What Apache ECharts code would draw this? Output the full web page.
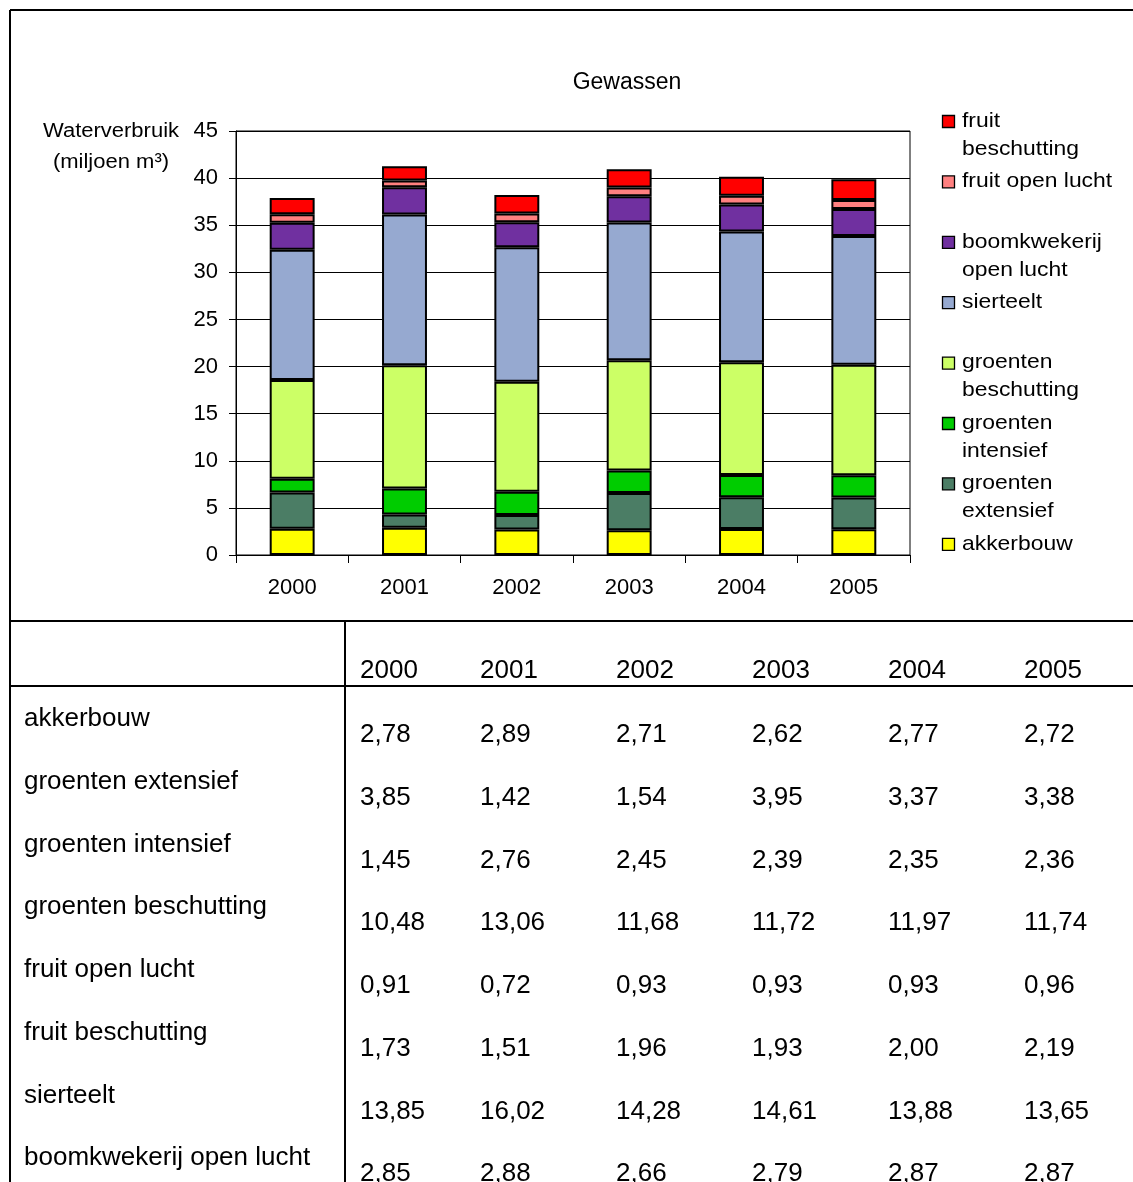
<!DOCTYPE html>
<html>
<head>
<meta charset="utf-8">
<title>Gewassen – Waterverbruik</title>
<script src="https://cdn.jsdelivr.net/npm/echarts@6/dist/echarts.min.js"></script>
<style>
  html, body { margin: 0; padding: 0; background: #fff; }
  #chart { width: 1133px; height: 1182px; }
</style>
</head>
<body>
<div id="chart"></div>
<script>
// Categories and y-axis ticks
const years = ['2000', '2001', '2002', '2003', '2004', '2005'];
const yMin = 0, yMax = 45, yStep = 5;

// Water use per crop group (miljoen m³)
const akkerbouw           = [2.78, 2.89, 2.71, 2.62, 2.77, 2.72];
const groentenExtensief   = [3.85, 1.42, 1.54, 3.95, 3.37, 3.38];
const groentenIntensief   = [1.45, 2.76, 2.45, 2.39, 2.35, 2.36];
const groentenBeschutting = [10.48, 13.06, 11.68, 11.72, 11.97, 11.74];
const fruitOpenLucht      = [0.91, 0.72, 0.93, 0.93, 0.93, 0.96];
const fruitBeschutting    = [1.73, 1.51, 1.96, 1.93, 2.00, 2.19];
const sierteelt           = [13.85, 16.02, 14.28, 14.61, 13.88, 13.65];
const boomkwekerij        = [2.85, 2.88, 2.66, 2.79, 2.87, 2.87];

// Stack order, bottom to top
const stackSeries = [
  { name: 'akkerbouw',               legend: 'akkerbouw',                 data: akkerbouw,           color: '#FFFF00' },
  { name: 'groenten extensief',      legend: 'groenten\nextensief',       data: groentenExtensief,   color: '#4B7D65' },
  { name: 'groenten intensief',      legend: 'groenten\nintensief',       data: groentenIntensief,   color: '#00CC00' },
  { name: 'groenten beschutting',    legend: 'groenten\nbeschutting',     data: groentenBeschutting, color: '#CCFF66' },
  { name: 'sierteelt',               legend: 'sierteelt',                 data: sierteelt,           color: '#96A9D0' },
  { name: 'boomkwekerij open lucht', legend: 'boomkwekerij\nopen lucht',  data: boomkwekerij,        color: '#7030A0' },
  { name: 'fruit open lucht',        legend: 'fruit open lucht',          data: fruitOpenLucht,      color: '#FF8080' },
  { name: 'fruit beschutting',       legend: 'fruit\nbeschutting',        data: fruitBeschutting,    color: '#FF0000' }
];

// Row order of the table under the chart
const tableRows = [
  ['akkerbouw', akkerbouw],
  ['groenten extensief', groentenExtensief],
  ['groenten intensief', groentenIntensief],
  ['groenten beschutting', groentenBeschutting],
  ['fruit open lucht', fruitOpenLucht],
  ['fruit beschutting', fruitBeschutting],
  ['sierteelt', sierteelt],
  ['boomkwekerij open lucht', boomkwekerij]
];

const FONT = '"Liberation Sans", Arial, sans-serif';
const fmt = v => v.toFixed(2).replace('.', ',');

const chart = echarts.init(document.getElementById('chart'), null, { renderer: 'canvas' });

const graphics = [];

// Frame and table rules
const line = (x1, y1, x2, y2) => ({
  type: 'line', silent: true,
  shape: { x1, y1, x2, y2 },
  style: { stroke: '#000', lineWidth: 2 }
});
graphics.push(line(10, 10, 1140, 10));
graphics.push(line(10, 10, 10, 1190));
graphics.push(line(10, 621, 1140, 621));
graphics.push(line(10, 686, 1140, 686));
graphics.push(line(345, 621, 345, 1190));

// Chart title
graphics.push({
  type: 'text', silent: true, x: 627, y: 83,
  style: {
    text: 'Gewassen', align: 'center', verticalAlign: 'middle',
    fontSize: 23, fontFamily: FONT, fill: '#000'
  }
});

// Y axis caption
graphics.push({
  type: 'text', silent: true, x: 111, y: 116, scaleX: 1.1,
  style: {
    text: 'Waterverbruik\n(miljoen m³)', align: 'center', verticalAlign: 'top',
    lineHeight: 31, fontSize: 20, fontFamily: FONT, fill: '#000'
  }
});

// Legend (top to bottom: reverse stack order)
stackSeries.slice().reverse().forEach((s, i) => {
  const cy = 121 + i * 60.4;
  graphics.push({
    type: 'rect', silent: true,
    shape: { x: 942.5, y: cy - 5.5, width: 12, height: 12 },
    style: { fill: s.color, stroke: '#000', lineWidth: 1.3 }
  });
  graphics.push({
    type: 'text', silent: true, x: 962, y: cy - 14, scaleX: 1.09,
    style: {
      text: s.legend, align: 'left', verticalAlign: 'top',
      lineHeight: 28, fontSize: 21, fontFamily: FONT, fill: '#000'
    }
  });
});

// Table: header years and rows
const colX = i => (i === 0 ? 360 : 480 + (i - 1) * 136);
const TABLE_FONT = 26;
years.forEach((y, i) => {
  graphics.push({
    type: 'text', silent: true, x: colX(i), y: 671,
    style: { text: y, verticalAlign: 'middle', fontSize: TABLE_FONT, fontFamily: FONT, fill: '#000' }
  });
});
tableRows.forEach(([label, values], r) => {
  const ly = 719 + r * 62.75;
  graphics.push({
    type: 'text', silent: true, x: 24, y: ly,
    style: { text: label, verticalAlign: 'middle', fontSize: TABLE_FONT, fontFamily: FONT, fill: '#000' }
  });
  values.forEach((v, i) => {
    graphics.push({
      type: 'text', silent: true, x: colX(i), y: ly + 16,
      style: { text: fmt(v), verticalAlign: 'middle', fontSize: TABLE_FONT, fontFamily: FONT, fill: '#000' }
    });
  });
});

chart.setOption({
  animation: false,
  backgroundColor: '#fff',
  textStyle: { fontFamily: FONT },
  grid: {
    left: 236, right: 223, top: 131, bottom: 627,
    show: true, borderColor: '#000', borderWidth: 1, backgroundColor: '#fff'
  },
  xAxis: {
    type: 'category', data: years, boundaryGap: true,
    axisLine: { lineStyle: { color: '#000', width: 1 } },
    axisTick: { show: true, alignWithLabel: false, length: 8, lineStyle: { color: '#000' } },
    axisLabel: { color: '#000', fontSize: 22, margin: 22, fontFamily: FONT },
    splitLine: { show: false }
  },
  yAxis: {
    type: 'value', min: yMin, max: yMax, interval: yStep,
    axisLine: { show: true, lineStyle: { color: '#000', width: 1 } },
    axisTick: { show: true, length: 7, lineStyle: { color: '#000' } },
    axisLabel: { color: '#000', fontSize: 22, margin: 18, fontFamily: FONT },
    splitLine: { show: true, lineStyle: { color: '#000', width: 1 } }
  },
  series: stackSeries.map(s => ({
    name: s.name, type: 'bar', stack: 'total', data: s.data,
    barWidth: '40%',
    itemStyle: { color: s.color, borderColor: '#000', borderWidth: 2 }
  })),
  graphic: graphics
});
</script>
</body>
</html>
